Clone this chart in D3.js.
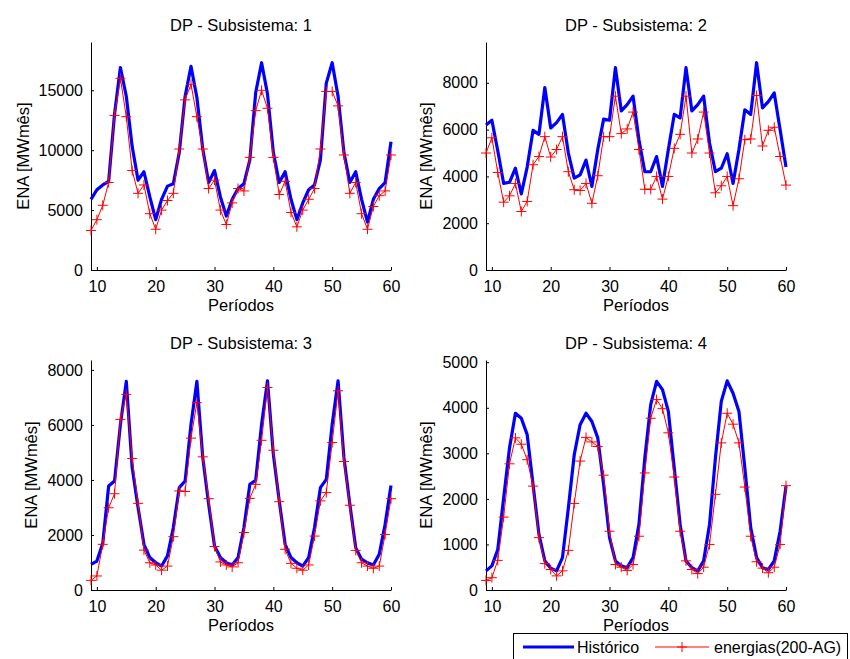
<!DOCTYPE html>
<html>
<head>
<meta charset="utf-8">
<script src="https://cdn.jsdelivr.net/npm/d3@7"></script>
<style>
  body { margin: 0; background: #fff; }
  svg { display: block; font-family: "Liberation Sans", Arial, sans-serif; }
</style>
</head>
<body>
<div id="chart"></div>
<script>
const periods = [9, 10, 11, 12, 13, 14, 15, 16, 17, 18, 19, 20, 21, 22, 23, 24, 25, 26, 27, 28, 29, 30,
    31, 32, 33, 34, 35, 36, 37, 38, 39, 40, 41, 42, 43, 44, 45, 46, 47, 48, 49, 50, 51, 52, 53, 54, 55, 56,
    57, 58, 59, 60];
const xTicks = [10, 20, 30, 40, 50, 60];

const hist1 = [5900, 6700, 7100, 7400, 13000, 16900, 14500, 10300, 7500, 8200, 6100, 4200, 5900, 7000, 7200,
    9800, 14500, 17000, 14400, 10100, 7300, 8300, 6100, 4500, 5900, 6800, 7200, 9200, 14800, 17300, 14700,
    9800, 7300, 8200, 5900, 4200, 5600, 6700, 7100, 9200, 15600, 17300, 14500, 9800, 7300, 8200, 5900, 4000,
    5900, 6800, 7300, 10700];
const ener1 = [3300, 4200, 5400, 7300, 12900, 16000, 12800, 8300, 6400, 7100, 4700, 3400, 5000, 5800, 6400,
    10100, 14200, 15500, 12800, 10100, 6800, 7500, 5000, 3800, 5600, 6800, 6600, 9400, 13300, 15000, 13500,
    9400, 6300, 7400, 4800, 3600, 5000, 5900, 6800, 10100, 14900, 14900, 13700, 9600, 6400, 7300, 4700, 3400,
    5300, 6200, 6600, 9600];
const yTicks1 = [0, 5000, 10000, 15000];

const hist2 = [6200, 6400, 5100, 3700, 3750, 4350, 3250, 4400, 5970, 5800, 7800, 6070, 6300, 6650, 5000,
    3930, 4070, 4700, 3570, 5150, 6450, 6400, 8650, 6800, 7070, 7430, 5570, 4200, 4200, 4850, 3570, 5150,
    6650, 6500, 8650, 6800, 7070, 7430, 5430, 4200, 4350, 4970, 3700, 5150, 6850, 6650, 8860, 6930, 7200,
    7570, 6000, 4400];
const ener2 = [5000, 5650, 4170, 2900, 3170, 3700, 2500, 2930, 4500, 4850, 5700, 4830, 5150, 5700, 4200,
    3430, 3400, 3700, 2850, 4030, 5700, 5700, 7430, 5830, 6030, 6750, 5150, 3450, 3450, 4000, 3030, 4000,
    5200, 5800, 7430, 5000, 5600, 6750, 5000, 3300, 3600, 4000, 2750, 3900, 5570, 5600, 7460, 5300, 5970,
    6100, 4850, 3630];
const yTicks2 = [0, 2000, 4000, 6000, 8000];

const hist3 = [930, 1050, 1700, 3780, 3960, 6020, 7580, 4450, 3000, 1660, 1180, 990, 870, 1240, 2270, 3720,
    3960, 6020, 7580, 4810, 3120, 1600, 1180, 990, 910, 1180, 2270, 3840, 3990, 6020, 7600, 4930, 3240, 1660,
    1180, 990, 870, 1180, 2270, 3720, 4020, 6020, 7600, 4810, 3120, 1540, 1120, 990, 910, 1300, 2390, 3800];
const ener3 = [350, 510, 1660, 2990, 3500, 6200, 7110, 4780, 3150, 1450, 990, 910, 720, 870, 1940, 3600,
    3580, 5520, 6810, 4840, 3320, 1580, 1020, 910, 840, 990, 2090, 3330, 3840, 5440, 7360, 5080, 3210, 1480,
    970, 790, 720, 910, 1960, 3240, 3540, 5360, 7240, 4670, 3080, 1440, 990, 870, 790, 870, 2020, 3320];
const yTicks3 = [0, 2000, 4000, 6000, 8000];

const hist4 = [420, 530, 890, 2020, 3120, 3880, 3770, 3410, 2310, 1220, 640, 480, 420, 710, 1800, 2970,
    3630, 3880, 3700, 3340, 2310, 1150, 640, 530, 490, 710, 1440, 2900, 4070, 4580, 4400, 3920, 2680, 1440,
    640, 490, 420, 640, 1440, 2900, 4140, 4590, 4320, 3920, 2680, 1370, 710, 490, 450, 640, 1290, 2280];
const ener4 = [210, 270, 650, 1600, 2770, 3340, 3200, 2860, 2280, 1150, 580, 450, 310, 420, 870, 1900,
    2830, 3350, 3250, 3150, 2520, 1290, 560, 500, 430, 560, 1180, 2570, 3770, 4180, 3980, 3450, 2480, 1290,
    640, 450, 360, 500, 1000, 2100, 3230, 3880, 3640, 3230, 2260, 1180, 620, 480, 380, 500, 1000, 2290];
const yTicks4 = [0, 1000, 2000, 3000, 4000, 5000];

const titles = ['DP - Subsistema: 1', 'DP - Subsistema: 2', 'DP - Subsistema: 3', 'DP - Subsistema: 4'];
const legendLabels = ['Histórico', 'energias(200-AG)'];

const panels = [
    { hist: hist1, ener: ener1, ticks: yTicks1, left: 91, top: 42, bottom: 270 },
    { hist: hist2, ener: ener2, ticks: yTicks2, left: 486, top: 42, bottom: 270 },
    { hist: hist3, ener: ener3, ticks: yTicks3, left: 91, top: 360, bottom: 590 },
    { hist: hist4, ener: ener4, ticks: yTicks4, left: 486, top: 360, bottom: 590 }
];
const plotWidth = 300;

const svg = d3.select('#chart')
    .append('svg')
    .attr('width', 850)
    .attr('height', 659)
    .style('background-color', '#ffffff');

panels.forEach((p, i) => {
    const x = d3.scaleLinear().domain([9, 60]).range([p.left, p.left + plotWidth]);
    const y = d3.scaleLinear().domain([0, d3.max(p.hist) * 1.1]).range([p.bottom, p.top]);
    const g = svg.append('g');

    // axes (matlab style, ticks inside)
    const xAxis = g.append('g')
        .attr('transform', `translate(0,${p.bottom})`)
        .call(d3.axisBottom(x).tickValues(xTicks).tickFormat(d3.format('d'))
            .tickSizeInner(-3).tickSizeOuter(0).tickPadding(7));
    const yAxis = g.append('g')
        .attr('transform', `translate(${p.left},0)`)
        .call(d3.axisLeft(y).tickValues(p.ticks).tickFormat(d3.format('d'))
            .tickSizeInner(-3).tickSizeOuter(0).tickPadding(8));

    [xAxis, yAxis].forEach(a => {
        a.select('.domain').attr('stroke', '#000');
        a.selectAll('.tick line').attr('stroke', '#000');
        a.selectAll('text')
            .attr('fill', '#000')
            .style('font-size', '16px')
            .style('font-family', '"Liberation Sans", Arial, sans-serif');
    });
    xAxis.selectAll('text').attr('dy', '0.95em');

    let maxW = 0;
    yAxis.selectAll('text').each(function() {
        maxW = Math.max(maxW, this.getComputedTextLength());
    });

    // Histórico
    const line = d3.line()
        .x((d, j) => x(periods[j]))
        .y(d => y(d));

    g.append('path')
        .datum(p.hist)
        .attr('d', line)
        .attr('fill', 'none')
        .attr('stroke', '#0000ff')
        .attr('stroke-width', 3.2)
        .attr('stroke-linejoin', 'round');

    // energias
    g.append('path')
        .datum(p.ener)
        .attr('d', line)
        .attr('fill', 'none')
        .attr('stroke', '#ff0000')
        .attr('stroke-width', 1);

    g.selectAll('.mk')
        .data(p.ener)
        .enter()
        .append('path')
        .attr('d', (d, j) => {
            const cx = x(periods[j]), cy = y(d), s = 5;
            return `M${cx - s},${cy}H${cx + s}M${cx},${cy - s}V${cy + s}`;
        })
        .attr('stroke', '#ff0000')
        .attr('stroke-width', 1);

    // title and labels
    g.append('text')
        .attr('x', p.left + plotWidth / 2)
        .attr('y', p.top - 11)
        .attr('text-anchor', 'middle')
        .style('font-size', '16.5px')
        .text(titles[i]);

    g.append('text')
        .attr('x', p.left + plotWidth / 2)
        .attr('y', p.bottom + 41)
        .attr('text-anchor', 'middle')
        .style('font-size', '16.5px')
        .text('Períodos');

    const lx = p.left - 8 - maxW - 10;
    const ly = (p.top + p.bottom) / 2;
    g.append('text')
        .attr('transform', `translate(${lx},${ly}) rotate(-90)`)
        .attr('text-anchor', 'middle')
        .style('font-size', '16.5px')
        .text('ENA [MWmês]');
});

// legend
const leg = svg.append('g');
leg.append('rect')
    .attr('x', 513.5)
    .attr('y', 633.5)
    .attr('width', 334)
    .attr('height', 40)
    .attr('fill', '#fff')
    .attr('stroke', '#000')
    .attr('stroke-width', 1);

leg.append('line')
    .attr('x1', 523).attr('x2', 574)
    .attr('y1', 647).attr('y2', 647)
    .attr('stroke', '#0000ff')
    .attr('stroke-width', 3);
leg.append('text')
    .attr('x', 577)
    .attr('y', 653)
    .style('font-size', '16px')
    .text(legendLabels[0]);

leg.append('line')
    .attr('x1', 655).attr('x2', 709)
    .attr('y1', 647).attr('y2', 647)
    .attr('stroke', '#ff0000')
    .attr('stroke-width', 1);
leg.append('path')
    .attr('d', 'M677,647H687M682,642V652')
    .attr('stroke', '#ff0000')
    .attr('stroke-width', 1);
leg.append('text')
    .attr('x', 714)
    .attr('y', 653)
    .style('font-size', '16px')
    .text(legendLabels[1]);
</script>
</body>
</html>
